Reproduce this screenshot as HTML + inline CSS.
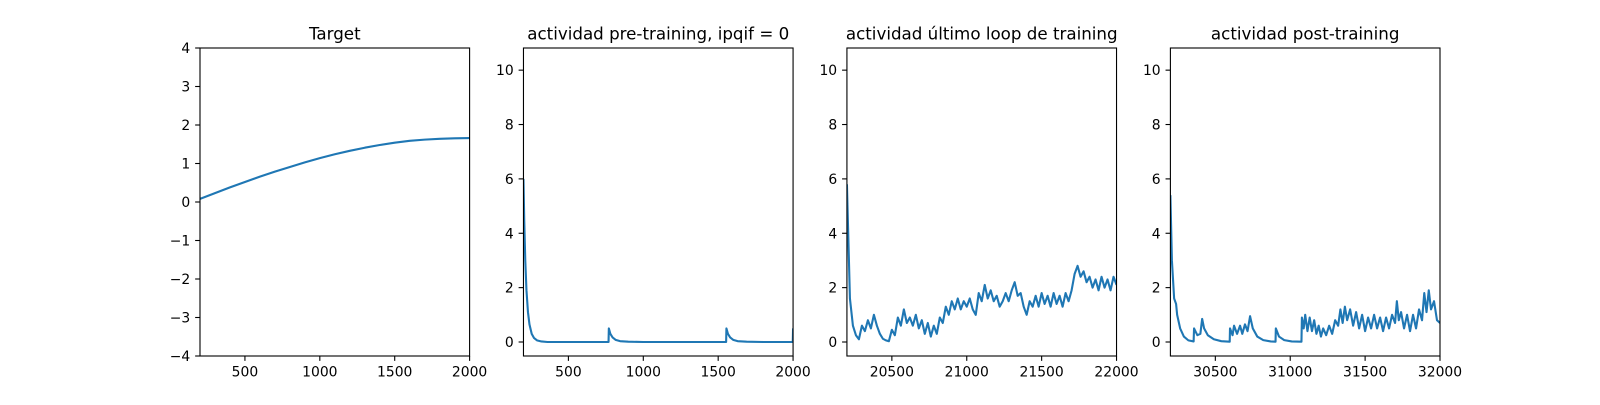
<!DOCTYPE html>
<html><head><meta charset="utf-8"><style>
html,body{margin:0;padding:0;background:#fff;}
svg text{font-family:"DejaVu Sans","Liberation Sans",sans-serif;fill:#000;}
</style></head><body>
<svg id="fig" width="1600" height="400" xmlns="http://www.w3.org/2000/svg"></svg>
<script>
// ---- data ----
const targetT = [200,300,400,500,600,700,800,900,1000,1100,1200,1300,1400,1500,1600,1700,1800,1900,2000];
const targetV = [0.08,0.23,0.38,0.52,0.66,0.79,0.91,1.03,1.14,1.24,1.33,1.41,1.48,1.54,1.59,1.62,1.64,1.655,1.66];
const preT = [200,205,212,220,230,240,255,270,290,320,360,768,770,780,795,815,845,900,1000,1553,1555,1565,1580,1600,1630,1690,1800,1998,2000];
const preV = [6.0,4.5,3.0,1.9,1.1,0.65,0.3,0.15,0.06,0.02,0.0,0.0,0.5,0.3,0.17,0.08,0.03,0.01,0,0,0.5,0.3,0.17,0.08,0.03,0.01,0,0,0.5];
const lastStart = 20200, lastStep = 20;
const lastV = [5.8,1.6,0.6,0.25,0.1,0.6,0.4,0.8,0.5,1.0,0.6,0.3,0.12,0.06,0.03,0.45,0.25,0.9,0.6,1.2,0.7,0.9,0.6,1.0,0.5,0.8,0.3,0.7,0.2,0.6,0.3,0.9,0.7,1.3,1.0,1.5,1.2,1.6,1.2,1.5,1.3,1.6,1.2,1.0,1.8,1.5,2.1,1.6,1.9,1.5,1.7,1.3,1.5,1.8,1.5,1.9,2.2,1.7,1.8,1.3,1.0,1.5,1.3,1.7,1.3,1.8,1.4,1.7,1.3,1.8,1.4,1.7,1.3,1.8,1.5,1.9,2.5,2.8,2.4,2.6,2.2,2.4,2.0,2.3,1.9,2.4,2.0,2.3,1.9,2.4,2.1];
const postT = [30200,30210,30225,30238,30245,30265,30290,30320,30355,30358,30380,30400,30412,30425,30450,30490,30540,30596,30598,30615,30625,30645,30665,30680,30698,30715,30732,30750,30780,30820,30870,30902,30904,30925,30960,31010,31075,31078,31090,31100,31115,31130,31145,31160,31175,31190,31205,31220,31240,31260,31280,31300,31320,31335,31350,31365,31380,31400,31420,31440,31460,31480,31500,31520,31540,31560,31580,31600,31620,31640,31660,31680,31700,31712,31725,31740,31760,31780,31800,31820,31840,31860,31880,31895,31910,31925,31940,31960,31980,32000];
const postV = [5.4,3.0,1.6,1.4,1.0,0.5,0.2,0.06,0.02,0.5,0.25,0.3,0.85,0.5,0.25,0.1,0.03,0.01,0.5,0.25,0.6,0.3,0.6,0.3,0.65,0.4,0.95,0.5,0.2,0.07,0.02,0.01,0.5,0.2,0.07,0.02,0.01,0.9,0.5,1.0,0.4,0.9,0.4,0.8,0.3,0.6,0.2,0.5,0.25,0.6,0.3,0.8,0.6,1.2,0.7,1.3,0.8,1.2,0.6,1.1,0.5,1.0,0.4,0.9,0.5,1.0,0.5,0.9,0.4,0.9,0.5,1.0,0.7,1.5,0.8,1.1,0.5,1.0,0.4,1.0,0.5,1.2,0.8,1.8,1.1,1.9,1.2,1.5,0.8,0.7];
const yTicksA = [-4,-3,-2,-1,0,1,2,3,4];
const yTicksB = [0,2,4,6,8,10];
const xTicks1 = [500,1000,1500,2000];
const xTicks3 = [20500,21000,21500,22000];
const xTicks4 = [30500,31000,31500,32000];
const titles = ["Target","actividad pre-training, ipqif = 0","actividad último loop de training","actividad post-training"];

const NS="http://www.w3.org/2000/svg";
const svg=document.getElementById('fig');
function mk(tag,attrs,parent){const e=document.createElementNS(NS,tag);for(const k in attrs)e.setAttribute(k,attrs[k]);(parent||svg).appendChild(e);return e;}
const AW=269.6, TOP=48, BOT=356, TL=4.86;
const lefts=[200,523.47,846.93,1170.4];
function fmt(v){return v<0?'\u2212'+Math.abs(v):String(v);}

function panel(i,xmin,xmax,ymin,ymax,xt,yt,ts,vs,name){
  const L=lefts[i];
  const g=mk('g',{});
  
  
  const sx=v=>L+(v-xmin)/(xmax-xmin)*AW;
  const sy=v=>BOT-(v-ymin)/(ymax-ymin)*(BOT-TOP);
  const cp=mk('clipPath',{id:'cp'+i},g);
  mk('rect',{x:L,y:TOP,width:AW,height:BOT-TOP},cp);
  let d='';
  for(let k=0;k<vs.length;k++){d+=(k?'L':'M')+sx(ts[k]).toFixed(2)+','+sy(vs[k]).toFixed(2);}
  const p=mk('path',{d:d,fill:'none',stroke:'#1f77b4','stroke-width':2.1,'stroke-linejoin':'round','clip-path':'url(#cp'+i+')'},g);
  
  
  const fr=mk('rect',{x:L,y:TOP,width:AW,height:BOT-TOP,fill:'none',stroke:'#000','stroke-width':1.1},g);
  
  
  xt.forEach(v=>{const x=sx(v);mk('line',{x1:x,x2:x,y1:BOT,y2:BOT+TL,stroke:'#000','stroke-width':1.1},g);
    const t=mk('text',{x:x,y:BOT+TL+4.9+10.6,'font-size':13.9,'text-anchor':'middle'},g);t.textContent=v;
    
    });
  yt.forEach(v=>{const y=sy(v);mk('line',{x1:L-TL,x2:L,y1:y,y2:y,stroke:'#000','stroke-width':1.1},g);
    const t=mk('text',{x:L-TL-4.9,y:y+5,'font-size':13.9,'text-anchor':'end'},g);t.textContent=fmt(v);
    
    });
  const tt=mk('text',{x:L+AW/2,y:TOP-8.3,'font-size':16.7,'text-anchor':'middle'},g);tt.textContent=titles[i];
  
  
}
const lastT=lastV.map((_,k)=>lastStart+k*lastStep);
panel(0,200,2000,-4,4,xTicks1,yTicksA,targetT,targetV,'target');
panel(1,200,2000,-0.515,10.815,xTicks1,yTicksB,preT,preV,'pre-training');
panel(2,20200,22000,-0.515,10.815,xTicks3,yTicksB,lastT,lastV,'last-loop');
panel(3,30200,32000,-0.515,10.815,xTicks4,yTicksB,postT,postV,'post-training');
</script>
</body></html>
